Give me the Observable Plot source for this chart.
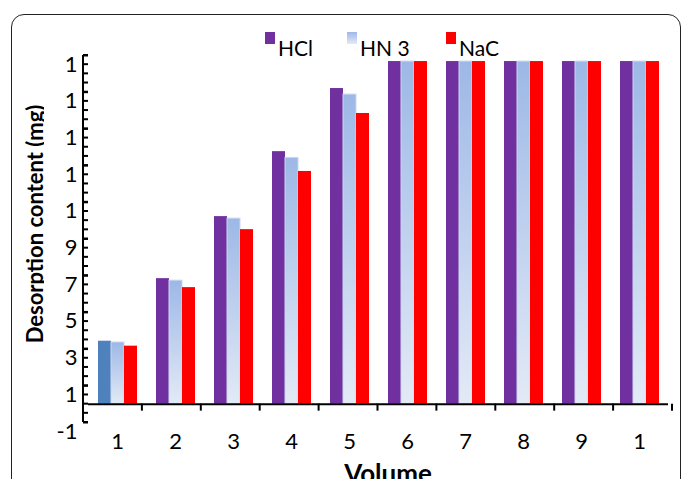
<!DOCTYPE html>
<html><head><meta charset="utf-8">
<script src="https://cdn.jsdelivr.net/npm/d3@7"></script>
<script src="https://cdn.jsdelivr.net/npm/@observablehq/plot@0.6"></script>
<style>
html,body{margin:0;padding:0;background:#fff;}
#wrap{position:relative;width:683px;height:479px;overflow:hidden;font-family:Lato,"Open Sans",sans-serif;}
#border{position:absolute;left:11px;top:14px;width:670px;height:480px;border:1.6px solid #222;border-radius:13px;box-sizing:border-box;}
#chart{position:absolute;left:0;top:0;}
</style></head><body>
<div id="wrap"><div id="border"></div><div id="chart"></div></div>
<script>
// ---- data ----
const volumes = ["1","2","3","4","5","6","7","8","9","10"];
const volumeLabels = ["1","2","3","4","5","6","7","8","9","1"];
const seriesNames = ["HCl","HNO3","NaCl"];
const legendLabels = ["HCl","HN 3","NaC"];
const hclValues  = [3.43, 6.84, 10.22, 13.76, 17.20, 18.67, 18.67, 18.67, 18.67, 18.67];
const hno3Values = [3.36, 6.73, 10.11, 13.42, 16.87, 18.67, 18.67, 18.67, 18.67, 18.67];
const naclValues = [3.16, 6.35,  9.51, 12.68, 15.84, 18.67, 18.67, 18.67, 18.67, 18.67];
const yTicks = [-1, 1, 3, 5, 7, 9, 11, 13, 15, 17, 19];
const yTickLabels = ["-1","1","3","5","7","9","1","1","1","1","1"];
const yMinorStep = 0.5;
const yTitle = "Desorption content (mg)";
const xTitle = "Volume";

// ---- table built from arrays ----
const seriesValues = [hclValues, hno3Values, naclValues];
const rows = volumes.flatMap((v, i) => seriesNames.map((s, k) => ({volume: v, series: s, value: seriesValues[k][i]})));
const yLabelMap = new Map(yTicks.map((t, i) => [t, yTickLabels[i]]));
const xLabelMap = new Map(volumes.map((v, i) => [v, volumeLabels[i]]));

const colors = {HCl: "#7030A0", HCl1: "#4F81BD", HNO3: "url(#hno3grad)", NaCl: "#FF0000"};

const chart = Plot.plot({
  width: 683, height: 479,
  marginLeft: 83, marginRight: 11, marginTop: 55, marginBottom: 57,
  style: {fontFamily: "Lato, 'Open Sans', sans-serif", fontSize: "22px", color: "#000", background: "transparent", overflow: "visible"},
  fx: {domain: volumes, padding: 0, label: null},
  x: {domain: seriesNames, paddingInner: 0, paddingOuter: 0.714, axis: null},
  y: {domain: [-1, 19], label: null},
  marks: [
    Plot.barY(rows.filter(d => d.series === "HCl" && d.volume !== "1"), {fx: "volume", x: "series", y: "value", fill: colors.HCl}),
    Plot.barY(rows.filter(d => d.series === "HCl" && d.volume === "1"), {fx: "volume", x: "series", y: "value", fill: colors.HCl1}),
    Plot.barY(rows.filter(d => d.series === "HNO3"), {fx: "volume", x: "series", y: "value", fill: colors.HNO3, stroke: "#c9d7ef", strokeWidth: 1}),
    Plot.barY(rows.filter(d => d.series === "NaCl"), {fx: "volume", x: "series", y: "value", fill: colors.NaCl}),
    Plot.ruleY([0], {stroke: "#000", strokeWidth: 2}),
    Plot.axisY(yTicks, {tickSize: 5, tickFormat: () => "", strokeWidth: 2, label: null}),
    Plot.axisY(yTicks, {tickSize: 0, tickPadding: 11, dy: 9, tickFormat: d => yLabelMap.get(d), label: null}),
    Plot.axisFx({anchor: "bottom", tickSize: 0, tickPadding: 11, tickFormat: d => xLabelMap.get(d), label: null})
  ]
});
document.getElementById("chart").appendChild(chart);

// ---- extras drawn with the library's scales ----
const svg = d3.select(chart);
const ys = chart.scale("y"), fxs = chart.scale("fx");
const y = d3.scaleLinear().domain(ys.domain).range(ys.range);
const fx = d3.scaleBand().domain(fxs.domain).range(fxs.range).padding(0);
const x0 = fx.range()[0];

const defs = svg.append("defs");
const g = defs.append("linearGradient").attr("id", "hno3grad").attr("x1", 0).attr("y1", 0).attr("x2", 0).attr("y2", 1);
g.append("stop").attr("offset", "0%").attr("stop-color", "#9DB8E6");
g.append("stop").attr("offset", "100%").attr("stop-color", "#E3EAF6");
defs.append("clipPath").attr("id", "titleclip").append("rect").attr("x", 0).attr("y", 0).attr("width", 44).attr("height", 479);

const ax = svg.append("g").attr("stroke", "#000").attr("stroke-width", 2);
// y axis line
ax.append("line").attr("x1", x0).attr("x2", x0).attr("y1", y(19)).attr("y2", y(-1));
// inward ticks every minor step
d3.range(-1, 19 + 1e-9, yMinorStep).forEach(v => {
  ax.append("line").attr("x1", x0).attr("x2", x0 + 5).attr("y1", y(v)).attr("y2", y(v));
});
// category boundary ticks on the zero line
volumes.forEach(v => {
  const bx = fx(v) + fx.bandwidth();
  ax.append("line").attr("x1", bx).attr("x2", bx).attr("y1", y(0)).attr("y2", y(0) + 7);
});

// y title (clipped like the reference)
svg.append("g").attr("clip-path", "url(#titleclip)")
  .append("text")
  .attr("transform", `translate(43,224) rotate(-90)`)
  .attr("text-anchor", "middle").attr("font-weight", "bold").attr("font-size", 22).attr("fill", "#000")
  .text(yTitle);
// x title
svg.append("text").attr("x", 388).attr("y", 483).attr("text-anchor", "middle")
  .attr("font-weight", "bold").attr("font-size", 26).attr("fill", "#000").text(xTitle);

// legend
const legendX = [265, 347, 446];
const lg = svg.append("g").attr("text-anchor", "start");
seriesNames.forEach((s, i) => {
  lg.append("rect").attr("x", legendX[i]).attr("y", 32).attr("width", 10).attr("height", 12).attr("fill", colors[s]);
  lg.append("text").attr("x", legendX[i] + 13).attr("y", 56).attr("font-size", 21).attr("fill", "#000").text(legendLabels[i]);
});
</script>
</body></html>
